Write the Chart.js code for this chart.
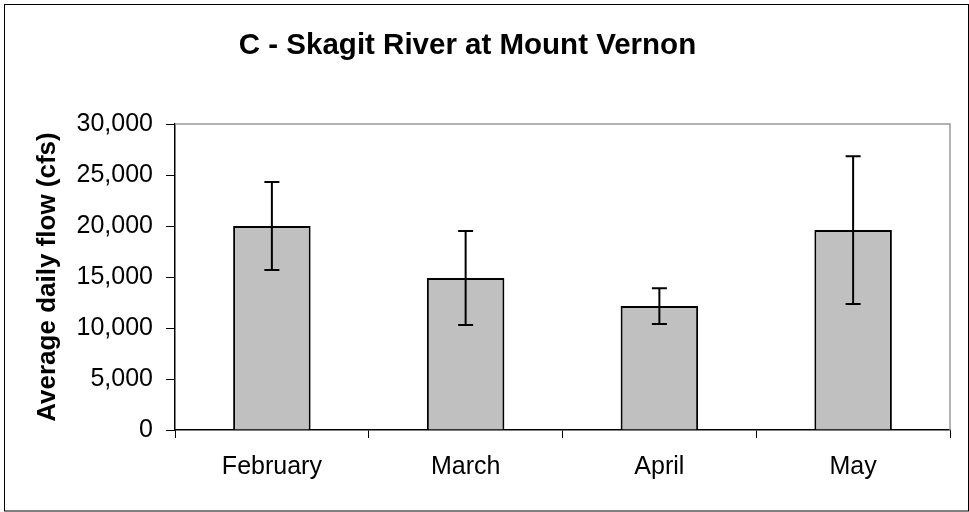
<!DOCTYPE html>
<html>
<head>
<meta charset="utf-8">
<script src="https://cdn.jsdelivr.net/npm/chart.js@4/dist/chart.umd.min.js"></script>
<style>
  html, body { margin: 0; padding: 0; background: #ffffff; }
  #wrap { width: 969px; height: 512px; position: relative; }
</style>
</head>
<body>
<div id="wrap"><canvas id="c" width="969" height="512"></canvas></div>
<script>
const chartTitle = "C - Skagit River at Mount Vernon";
const yAxisTitle = "Average daily flow (cfs)";
const categories = ["February", "March", "April", "May"];
const meanFlow = [20000, 14900, 12150, 19600];
const errorFlow = [4320, 4600, 1750, 7240];
const yTicks = [0, 5000, 10000, 15000, 20000, 25000, 30000];

const FONT = "'Liberation Sans', Arial, sans-serif";

const frameAndTitle = {
  id: 'frameAndTitle',
  beforeDraw(chart) {
    const ctx = chart.ctx;
    ctx.save();
    ctx.fillStyle = '#ffffff';
    ctx.fillRect(0, 0, chart.width, chart.height);
    ctx.restore();
  },
  afterDraw(chart) {
    const ctx = chart.ctx;
    const a = chart.chartArea;
    ctx.save();
    // plot area top/right border (grey)
    ctx.strokeStyle = '#9a9a9a';
    ctx.lineWidth = 1.5;
    ctx.beginPath();
    ctx.moveTo(a.left, a.top);
    ctx.lineTo(a.right, a.top);
    ctx.lineTo(a.right, a.bottom);
    ctx.stroke();
    // outer frame
    ctx.strokeStyle = '#000000';
    ctx.lineWidth = 1;
    ctx.strokeRect(4.5, 4.5, 964, 506.5);
    // title
    ctx.fillStyle = '#000000';
    ctx.font = "bold 29.5px " + FONT;
    ctx.textAlign = 'center';
    ctx.textBaseline = 'alphabetic';
    ctx.fillText(chartTitle, 467.5, 54);
    ctx.restore();
  }
};

const errorBars = {
  id: 'errorBars',
  afterDatasetsDraw(chart) {
    const ctx = chart.ctx;
    const meta = chart.getDatasetMeta(0);
    const ys = chart.scales.y;
    ctx.save();
    ctx.strokeStyle = '#000000';
    ctx.lineWidth = 2;
    meta.data.forEach((bar, i) => {
      const x = bar.x;
      const yHi = ys.getPixelForValue(meanFlow[i] + errorFlow[i]);
      const yLo = ys.getPixelForValue(meanFlow[i] - errorFlow[i]);
      ctx.beginPath();
      ctx.moveTo(x, yHi); ctx.lineTo(x, yLo);
      ctx.moveTo(x - 7.5, yHi); ctx.lineTo(x + 7.5, yHi);
      ctx.moveTo(x - 7.5, yLo); ctx.lineTo(x + 7.5, yLo);
      ctx.stroke();
    });
    ctx.restore();
  }
};

new Chart(document.getElementById('c'), {
  type: 'bar',
  data: {
    labels: categories,
    datasets: [{
      data: meanFlow,
      backgroundColor: '#c0c0c0',
      borderColor: '#000000',
      borderWidth: 2,
      barPercentage: 0.4,
      categoryPercentage: 1.0
    }]
  },
  options: {
    responsive: false,
    animation: false,
    events: [],
    layout: { padding: { left: 0, top: 124, right: 19, bottom: 22 } },
    plugins: {
      legend: { display: false },
      title: { display: false },
      tooltip: { enabled: false }
    },
    scales: {
      x: {
        afterFit(scale) { scale.height = 60; },
        grid: {
          offset: true,
          drawOnChartArea: false,
          drawTicks: true,
          tickLength: 8,
          color: '#000000',
          lineWidth: 1
        },
        border: { display: true, color: '#000000', width: 1.5 },
        ticks: {
          color: '#000000',
          padding: 14,
          font: { family: FONT, size: 25 }
        }
      },
      y: {
        min: 0,
        max: 30000,
        afterFit(scale) { scale.width = 175; },
        afterBuildTicks(scale) { scale.ticks = yTicks.map(v => ({ value: v })); },
        grid: {
          drawOnChartArea: false,
          drawTicks: true,
          tickLength: 9,
          color: '#000000',
          lineWidth: 1
        },
        border: { display: true, color: '#000000', width: 1.5 },
        ticks: {
          color: '#000000',
          padding: 13,
          font: { family: FONT, size: 25 },
          callback: (v) => Number(v).toLocaleString('en-US')
        },
        title: {
          display: true,
          text: yAxisTitle,
          color: '#000000',
          font: { family: FONT, size: 26, weight: 'bold' },
          padding: { top: 32, bottom: 0 }
        }
      }
    }
  },
  plugins: [frameAndTitle, errorBars]
});
</script>
</body>
</html>
